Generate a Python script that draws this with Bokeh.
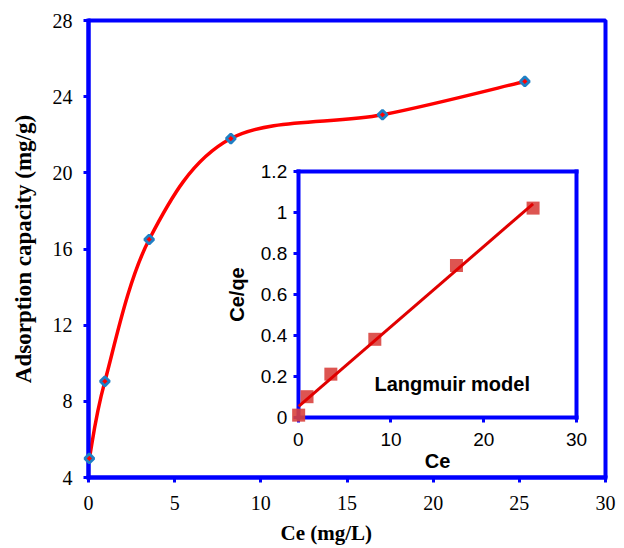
import numpy as np
from bokeh.plotting import figure
from bokeh.models import (Range1d, LinearAxis, FixedTicker, NumeralTickFormatter,
                          Label, Title)
from bokeh.embed import file_html
from bokeh.resources import INLINE

# Adsorption isotherm: equilibrium concentration vs. adsorbed amount
ce = [0.05, 0.95, 3.52, 8.26, 17.06, 25.32]        # Ce (mg/L)
qe = [5.0, 9.05, 16.5, 21.8, 23.05, 24.8]          # adsorption capacity (mg/g)
ce_over_qe = [0.01, 0.10, 0.21, 0.38, 0.74, 1.02]  # Langmuir linear form Ce/qe

main_x_ticks = [0, 5, 10, 15, 20, 25, 30]
main_y_ticks = [4, 8, 12, 16, 20, 24, 28]
inset_x_ticks = [0, 10, 20, 30]
inset_y_ticks = [0, 0.2, 0.4, 0.6, 0.8, 1.0, 1.2]

BLUE = "#0000FF"
SERIF = "Liberation Serif"
SANS = "Liberation Sans"

# frame geometry (pixels)
FRAME_W, FRAME_H = 517, 457
# inset box inside the frame, measured from the frame's left / top edges
IN_L, IN_R, IN_T, IN_B = 209.7, 488.0, 150.7, 396.7
IX = (0, 30)
IY = (0, 1.2)

def span(lo_px, hi_px, full_px, lo_val, hi_val):
    per_px = (hi_val - lo_val) / (hi_px - lo_px)
    return lo_val - lo_px * per_px, hi_val + (full_px - hi_px) * per_px

ix_start, ix_end = span(IN_L, IN_R, FRAME_W, *IX)
iy_start, iy_end = span(FRAME_H - IN_B, FRAME_H - IN_T, FRAME_H, *IY)

p = figure(frame_width=FRAME_W, frame_height=FRAME_H,
           x_range=Range1d(0, 30), y_range=Range1d(4, 28),
           output_backend="svg", toolbar_location=None,
           min_border_left=88, min_border_right=19,
           min_border_top=20, min_border_bottom=71)
p.extra_x_ranges = {"ix": Range1d(ix_start, ix_end)}
p.extra_y_ranges = {"iy": Range1d(iy_start, iy_end)}

p.background_fill_color = "white"
p.border_fill_color = "white"
p.outline_line_color = BLUE
p.outline_line_width = 4
p.xgrid.visible = False
p.ygrid.visible = False

def style_axis(ax, font, size, label_size, tick_out=5):
    ax.axis_line_color = BLUE
    ax.axis_line_width = 4
    ax.axis_line_cap = "square"
    ax.major_tick_line_color = BLUE
    ax.major_tick_line_width = 3
    ax.major_tick_in = 0
    ax.major_tick_out = tick_out
    ax.minor_tick_line_color = None
    ax.major_label_text_font = font
    ax.major_label_text_font_size = size
    ax.major_label_text_color = "black"
    ax.axis_label_text_font = font
    ax.axis_label_text_font_size = label_size
    ax.axis_label_text_font_style = "bold"
    ax.axis_label_text_color = "black"

# main axes
xa = p.xaxis[0]
ya = p.yaxis[0]
xa.ticker = FixedTicker(ticks=main_x_ticks)
ya.ticker = FixedTicker(ticks=main_y_ticks)
style_axis(xa, SERIF, "20px", "21px")
style_axis(ya, SERIF, "20px", "23px")
xa.major_label_standoff = 13
ya.major_label_standoff = 11
ya.axis_label = "Adsorption capacity (mg/g)"
ya.axis_label_standoff = 14

p.add_layout(Title(text="Ce (mg/L)", align="left", offset=192, standoff=12,
                   text_font=SERIF, text_font_size="21px",
                   text_font_style="bold", text_color="black"), "below")

# smoothed isotherm curve (cardinal spline as cubic Bezier segments)
pts = np.column_stack([ce, qe])
ext = np.vstack([pts[:1], pts, pts[-1:]])
p0, p1 = ext[1:-2], ext[2:-1]
c0 = p0 + (ext[2:-1] - ext[:-3]) / 6.0
c1 = p1 - (ext[3:] - ext[1:-2]) / 6.0
p.bezier(x0=p0[:, 0], y0=p0[:, 1], x1=p1[:, 0], y1=p1[:, 1],
         cx0=c0[:, 0], cy0=c0[:, 1], cx1=c1[:, 0], cy1=c1[:, 1],
         line_color="#FF0000", line_width=3.5)
p.scatter(ce, qe, marker="square", angle=np.pi / 4, size=6.5,
          fill_color="#FF0000", line_color="#1F7FC4", line_width=2.8,
          level="overlay")

# inset: Langmuir linear plot
iya = LinearAxis(x_range_name="ix", y_range_name="iy", fixed_location=0,
                 bounds=IY, ticker=FixedTicker(ticks=inset_y_ticks),
                 formatter=NumeralTickFormatter(format="0.[0]"),
                 axis_label="Ce/qe")
style_axis(iya, SANS, "19px", "20px")
iya.major_label_standoff = 6
iya.axis_label_standoff = 10
p.add_layout(iya, "left")

ixa = LinearAxis(x_range_name="ix", y_range_name="iy", fixed_location=0,
                 bounds=IX, ticker=FixedTicker(ticks=inset_x_ticks),
                 axis_label="Ce")
style_axis(ixa, SANS, "19px", "20px")
ixa.major_label_standoff = 11
ixa.axis_label_standoff = 0
p.add_layout(ixa, "below")

for loc, side, bnds in ((IX[1], "right", IY), (IY[1], "above", IX)):
    edge = LinearAxis(x_range_name="ix", y_range_name="iy", fixed_location=loc,
                      bounds=bnds, ticker=FixedTicker(ticks=[]))
    style_axis(edge, SANS, "19px", "20px")
    p.add_layout(edge, side)

p.scatter(ce, ce_over_qe, marker="square", size=13,
          fill_color="#D9433E", fill_alpha=0.9, line_color=None,
          x_range_name="ix", y_range_name="iy", level="overlay")

slope, intercept = np.polyfit(ce, ce_over_qe, 1)
fit_x = np.array([min(ce), max(ce)])
p.line(fit_x, slope * fit_x + intercept, line_color="#E00000", line_width=3,
       x_range_name="ix", y_range_name="iy", level="overlay")

p.add_layout(Label(x=16.6, y=0.163, x_range_name="ix", y_range_name="iy",
                   text="Langmuir model", text_align="center",
                   text_baseline="middle", text_font=SANS,
                   text_font_style="bold", text_font_size="20px",
                   text_color="black"))

open("out.html", "w").write(file_html(p, INLINE))
